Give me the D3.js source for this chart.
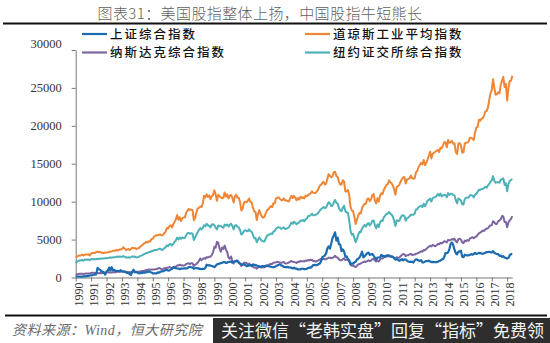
<!DOCTYPE html>
<html lang="zh-CN">
<head>
<meta charset="utf-8">
<script src="https://cdn.jsdelivr.net/npm/d3@7"></script>
<style>
  html, body { margin: 0; padding: 0; background: #fff; }
  svg { display: block; }
</style>
</head>
<body>
<script>
// ---------------- DATA (monthly closes, Dec 1990 – Apr 2019) ----------------
const yearLabels = [1990,1991,1992,1993,1994,1995,1996,1997,1998,1999,2000,2001,2002,2003,2004,
                    2005,2006,2007,2008,2009,2010,2011,2012,2013,2014,2015,2016,2017,2018];
const yTickValues = [0,5000,10000,15000,20000,25000,30000];
const seriesNames = ["上证综合指数","道琼斯工业平均指数","纳斯达克综合指数","纽约证交所综合指数"];

const shanghai = [127,
129,134,120,113,114,137,145,181,180,218,259,292,
313,365,370,445,1266,1098,1030,823,771,633,393,780,
873,1311,926,1359,935,1008,859,890,854,846,966,833,
770,792,694,601,592,467,334,723,1033,695,707,648,
563,550,637,583,700,630,750,715,793,717,668,555,
537,556,552,677,643,755,822,818,905,987,1002,917,
933,1038,1155,1377,1297,1218,1199,1186,1098,1182,1154,1194,
1221,1206,1244,1343,1412,1339,1315,1152,1238,1217,1248,1147,
1134,1091,1158,1120,1280,1690,1601,1627,1566,1514,1474,1367,
1535,1715,1800,1836,1894,1928,2023,2022,1911,1961,2071,2073,
2103,1959,2112,2120,2215,2218,1921,1834,1747,1690,1760,1646,
1492,1524,1603,1632,1515,1732,1652,1667,1581,1508,1437,1358,
1499,1511,1510,1521,1576,1487,1477,1421,1367,1348,1397,1497,
1590,1675,1742,1595,1555,1399,1386,1342,1396,1320,1341,1266,
1191,1306,1181,1159,1060,1080,1083,1162,1155,1092,1099,1161,
1258,1299,1298,1440,1642,1672,1612,1658,1752,1837,2099,2675,
2786,2881,3183,3841,4109,3820,4471,5218,5552,5955,4871,5262,
4383,4349,3473,3693,3433,2736,2776,2397,2293,1729,1871,1821,
1991,2082,2374,2477,2633,2959,3412,2668,2779,2996,3195,3277,
2989,3051,3110,2871,2592,2398,2638,2639,2656,2979,2820,2808,
2791,2905,2928,2911,2743,2762,2701,2568,2359,2469,2333,2199,
2292,2428,2263,2396,2373,2225,2103,2047,2086,2069,1980,2269,
2385,2366,2237,2178,2301,1979,1994,2098,2175,2141,2221,2116,
2033,2056,2033,2026,2039,2048,2202,2217,2364,2420,2683,3235,
3210,3310,3748,4442,4612,4277,3664,3206,3053,3383,3445,3539,
2738,2688,3004,2938,2917,2930,2979,3085,3005,3100,3250,3104,
3159,3242,3223,3155,3117,3192,3273,3361,3349,3393,3317,3307,
3481,3259,3169,3082,3095,2847,2876,2725,2821,2603,2588,2494,
2585,2941,3091,3078];

const dow = [2634,
2736,2882,2914,2888,3028,2907,3025,3044,3017,3069,2895,3169,
3224,3267,3236,3359,3397,3319,3394,3257,3272,3226,3305,3301,
3310,3370,3435,3428,3528,3516,3540,3651,3555,3681,3684,3754,
3978,3832,3636,3682,3758,3625,3765,3913,3843,3908,3739,3834,
3844,4011,4158,4321,4465,4556,4709,4611,4789,4756,5075,5117,
5395,5486,5588,5569,5643,5655,5529,5616,5882,6029,6522,6448,
6813,6878,6584,7009,7331,7673,8223,7622,7945,7442,7823,7908,
7907,8546,8800,9063,8900,8952,8883,7539,7843,8592,9117,9181,
9359,9307,9786,10789,10560,10971,10655,10829,10337,10730,10878,11497,
10941,10128,10922,10734,10522,10448,10522,11215,10651,10971,10415,10787,
10887,10495,9879,10735,10912,10502,10523,9950,8848,9075,9852,10022,
9920,10106,10404,9946,9925,9243,8737,8664,7592,8397,8896,8342,
8054,7891,7992,8480,8850,8985,9234,9416,9275,9801,9782,10454,
10488,10584,10358,10226,10188,10435,10140,10174,10080,10027,10428,10783,
10490,10766,10504,10193,10467,10275,10641,10482,10569,10440,10806,10718,
10865,10993,11109,11367,11168,11150,11186,11381,11679,12081,12222,12463,
12622,12269,12354,13063,13628,13409,13212,13358,13896,13930,13372,13265,
12650,12266,12263,12820,12638,11350,11378,11544,10851,9325,8829,8776,
8001,7063,7609,8168,8500,8447,9172,9496,9712,9713,10345,10428,
10067,10325,10857,11009,10137,9774,10466,10015,10788,11118,11006,11578,
11892,12226,12320,12811,12570,12414,12143,11614,10913,11955,12046,12218,
12633,12952,13212,13214,12393,12880,13009,13091,13437,13096,13026,13104,
13861,14054,14579,14840,15116,14910,15500,14810,15130,15546,16086,16577,
15699,16322,16458,16581,16717,16827,16563,17098,17043,17391,17828,17823,
17165,18133,17776,17841,18011,17620,17690,16528,16285,17664,17720,17425,
16466,16517,17685,17774,17787,17930,18432,18401,18308,18142,19124,19763,
19864,20812,20663,20941,21009,21350,21891,21948,22405,23377,24272,24719,
26149,25029,24103,24163,24416,24271,25415,25965,26458,25116,25538,23327,
24999,25916,25929,26593];

const nasdaq = [374,
414,453,482,484,506,475,502,525,527,542,523,586,
620,633,603,579,585,563,581,563,583,605,652,677,
696,671,690,661,700,704,705,743,763,779,754,777,
800,793,743,733,735,706,722,766,764,777,750,752,
755,794,817,843,865,933,1001,1020,1044,1036,1059,1052,
1060,1100,1101,1191,1243,1185,1081,1141,1227,1221,1293,1291,
1380,1309,1222,1261,1400,1442,1594,1587,1686,1594,1601,1570,
1619,1771,1835,1868,1779,1895,1873,1499,1694,1772,1950,2193,
2506,2288,2461,2543,2471,2686,2638,2739,2747,2966,3336,4069,
3940,4697,4573,3861,3401,3966,3767,4206,3673,3370,2598,2471,
2773,2152,1840,2116,2110,2161,2027,1805,1499,1690,1931,1950,
1934,1731,1845,1688,1616,1463,1328,1315,1172,1330,1479,1336,
1321,1338,1341,1464,1596,1623,1735,1810,1787,1932,1960,2003,
2066,2030,1994,1920,1987,2048,1887,1838,1897,1975,2097,2175,
2062,2052,1999,1922,2068,2057,2185,2152,2152,2120,2233,2205,
2306,2281,2340,2323,2179,2172,2091,2184,2258,2367,2432,2415,
2464,2416,2422,2525,2605,2603,2546,2596,2702,2859,2661,2652,
2390,2271,2279,2413,2523,2293,2326,2368,2092,1721,1536,1577,
1476,1378,1529,1717,1774,1835,1979,2009,2122,2045,2145,2269,
2147,2238,2398,2461,2257,2109,2255,2114,2369,2507,2498,2653,
2700,2782,2781,2874,2835,2774,2756,2579,2415,2684,2620,2605,
2814,2967,3091,3046,2827,2935,2940,3067,3116,2977,3010,3020,
3142,3160,3268,3329,3456,3403,3626,3590,3771,3920,4060,4177,
4104,4308,4199,4115,4243,4408,4370,4580,4493,4631,4792,4736,
4635,4964,4901,4941,5070,4987,5128,4777,4620,5054,5109,5007,
4614,4558,4870,4775,4948,4843,5162,5213,5312,5189,5324,5383,
5615,5825,5912,6048,6199,6140,6348,6429,6496,6728,6874,6903,
7411,7273,7063,7066,7442,7510,7672,8110,8046,7306,7331,6635,
7282,7533,7729,8095];

const nyse = [1908,
2070,2210,2240,2240,2320,2220,2320,2380,2350,2380,2280,2426,
2410,2440,2390,2450,2470,2430,2520,2470,2490,2490,2560,2539,
2560,2600,2660,2600,2660,2670,2670,2760,2750,2780,2740,2739,
2820,2750,2630,2650,2680,2610,2690,2790,2730,2760,2650,2654,
2710,2810,2880,2960,3070,3130,3230,3240,3370,3350,3480,3485,
3600,3630,3660,3700,3780,3780,3620,3700,3880,3980,4250,4149,
4380,4410,4220,4430,4700,4890,5260,5020,5280,5100,5280,5186,
5220,5570,5830,5890,5770,5840,5770,4950,5250,5640,5960,6299,
6530,6330,6560,6900,6740,7080,6860,6790,6600,6990,7030,6876,
6560,6340,6870,6770,6780,6650,6560,6980,6850,6990,6720,6946,
7100,6790,6340,6850,6900,6680,6600,6260,5660,5780,6130,6236,
6130,6110,6360,6100,6050,5650,5180,5210,4640,5000,5280,5000,
4870,4750,4740,5150,5530,5600,5690,5800,5740,6070,6120,6440,
6540,6640,6570,6410,6500,6620,6400,6420,6530,6610,6940,7250,
7080,7350,7180,7010,7190,7250,7530,7480,7580,7400,7670,7754,
8120,8100,8250,8410,8200,8220,8270,8380,8540,8810,8990,9139,
9290,9150,9230,9590,9930,9770,9430,9500,9890,10230,9830,9740,
9150,8850,8730,9220,9460,8720,8580,8560,7520,6150,5630,5757,
5220,4660,5050,5620,6020,5980,6480,6700,6930,6720,7050,7185,
6860,7090,7500,7520,6880,6480,6990,6650,7250,7510,7450,7964,
8170,8400,8410,8630,8440,8290,8030,7490,6790,7560,7460,7477,
7880,8160,8210,8100,7480,7830,7900,8080,8270,8290,8270,8443,
8980,9010,9290,9360,9490,9290,9720,9390,9730,10140,10230,10400,
10020,10460,10540,10620,10760,11010,10800,11070,10700,10820,10900,10839,
10580,11130,10900,11060,11060,10860,10820,10200,9780,10400,10330,10143,
9630,9630,10340,10530,10530,10560,10840,10840,10800,10570,10920,11057,
11300,11560,11530,11660,11690,11780,11960,11840,12130,12340,12600,12809,
13370,12760,12490,12570,12550,12500,12890,12960,13080,12210,12450,11374,
12350,12720,12850,13000];

// ---------------- DRAWING ----------------
const W = 550, H = 343;
const colors = { shanghai: "#1b6bb0", dow: "#ef8636", nasdaq: "#7d65a0", nyse: "#4db2b7" };
const cjk = "'Noto Sans CJK SC','Noto Sans',sans-serif";
const serif = "'Liberation Serif','Times New Roman',serif";

const svg = d3.select("body").append("svg").attr("width", W).attr("height", H);
svg.append("rect").attr("width", W).attr("height", H).attr("fill", "#fff");

// title
svg.append("text").attr("x", 260).attr("y", 18.5).attr("text-anchor", "middle")
  .attr("font-family", cjk).attr("font-size", 15).attr("fill", "#5f5f5f")
  .attr("font-weight", 300).attr("letter-spacing", 0.4)
  .text("图表31：美国股指整体上扬，中国股指牛短熊长");
svg.append("line").attr("x1", 3).attr("x2", 547).attr("y1", 23.5).attr("y2", 23.5)
  .attr("stroke", "#111").attr("stroke-width", 2);

const n = dow.length;
const x = d3.scaleLinear().domain([0, n - 1]).range([75.7, 512.3]);
const y = d3.scaleLinear().domain([0, 30000]).range([277.5, 50]);

// y axis
const yAxis = svg.append("g").attr("transform", "translate(75.7,0)")
  .call(d3.axisLeft(y).tickValues(yTickValues).tickSize(4).tickSizeOuter(0).tickPadding(10).tickFormat(d => d));
yAxis.select(".domain").attr("stroke", "#777");
yAxis.selectAll(".tick line").attr("stroke", "#777");
yAxis.selectAll(".tick text").attr("font-family", serif).attr("font-size", 12.5).attr("fill", "#333")
  .attr("dy", (d) => d === 30000 ? "-0.2em" : "0.32em");

// x axis
const tickIdx = yearLabels.map((yr, i) => i * 12);
const xAxis = svg.append("g").attr("transform", "translate(0,277.5)")
  .call(d3.axisBottom(x).tickValues(tickIdx).tickSize(4).tickSizeOuter(0)
    .tickFormat((d, i) => yearLabels[i]));
xAxis.select(".domain").attr("stroke", "#777");
xAxis.selectAll(".tick line").attr("stroke", "#777");
xAxis.selectAll(".tick text")
  .attr("font-family", serif).attr("font-size", 12).attr("fill", "#333")
  .attr("text-anchor", "end")
  .attr("transform", "translate(2.5,0) rotate(-90)")
  .attr("x", -5).attr("y", 0).attr("dy", "0.35em");

// lines
const line = d3.line().x((d, i) => x(i)).y(d => y(d));
const order = [
  ["nasdaq", nasdaq], ["nyse", nyse], ["dow", dow], ["shanghai", shanghai]
];
order.forEach(([k, arr]) => {
  svg.append("path").datum(arr).attr("d", line)
    .attr("fill", "none").attr("stroke", colors[k])
    .attr("stroke-width", k === "shanghai" ? 2.2 : 2).attr("stroke-linejoin", "round");
});

// legend
const legend = [
  { name: seriesNames[0], c: colors.shanghai, x: 82, y: 34 },
  { name: seriesNames[2], c: colors.nasdaq, x: 82, y: 52.5 },
  { name: seriesNames[1], c: colors.dow, x: 305, y: 34 },
  { name: seriesNames[3], c: colors.nyse, x: 305, y: 52.5 }
];
legend.forEach(l => {
  svg.append("line").attr("x1", l.x).attr("x2", l.x + 25).attr("y1", l.y).attr("y2", l.y)
    .attr("stroke", l.c).attr("stroke-width", 2.2);
  svg.append("text").attr("x", l.x + 28).attr("y", l.y).attr("dy", "0.36em")
    .attr("font-family", cjk).attr("font-size", 12.5).attr("letter-spacing", 2)
    .attr("font-weight", 500).attr("fill", "#111").text(l.name);
});

// bottom rule & source
svg.append("line").attr("x1", 5).attr("x2", 547).attr("y1", 315.5).attr("y2", 315.5)
  .attr("stroke", "#111").attr("stroke-width", 2);
svg.append("text").attr("x", 12).attr("y", 335)
  .attr("font-family", serif + "," + cjk).attr("font-style", "italic")
  .attr("font-size", 14).attr("fill", "#6a6a6a").attr("letter-spacing", 0.5)
  .text("资料来源：Wind，恒大研究院");

// banner
svg.append("rect").attr("x", 213).attr("y", 318).attr("width", 337).attr("height", 25).attr("fill", "#2e2e2e");
svg.append("text").attr("x", 221).attr("y", 337)
  .attr("font-family", cjk).attr("font-size", 17).attr("fill", "#f2f2f2")
  .text("关注微信“老韩实盘”回复“指标”免费领");
</script>
</body>
</html>
